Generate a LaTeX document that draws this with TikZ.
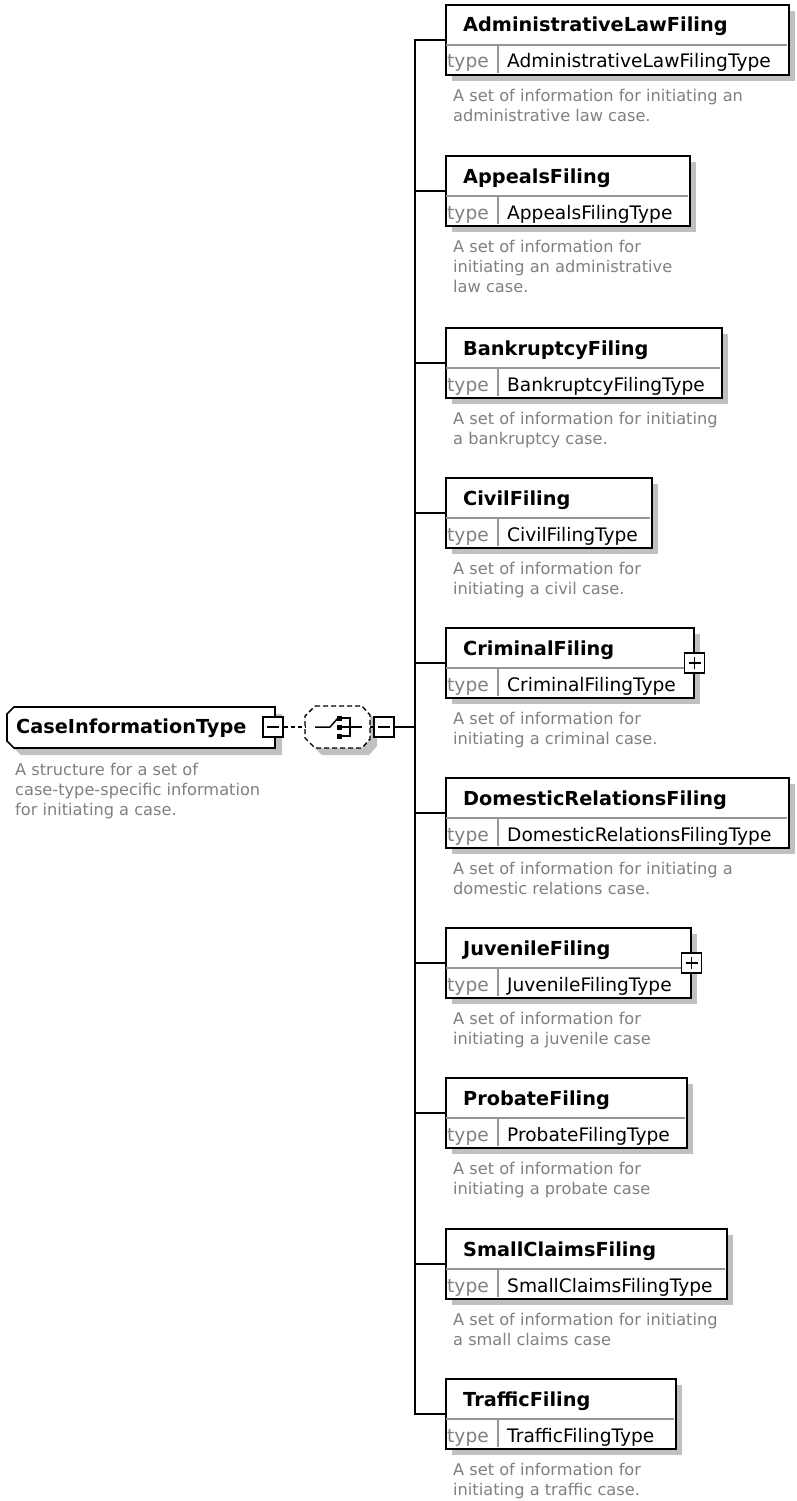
\documentclass[tikz,border=0pt]{standalone}
\usepackage{fontspec}
\setmainfont{DejaVu Sans}
\definecolor{shadowc}{RGB}{192,192,192}
\definecolor{descgray}{RGB}{128,128,128}
\definecolor{divgray}{RGB}{150,150,150}
\tikzset{
  boxline/.style={line width=1.6pt, draw=black},
  elbox/.style={draw=black, line width=1.6pt, fill=white, inner sep=0, minimum height=70pt},
  divider/.style={draw=divgray, line width=1.2pt},
  conn/.style={draw=black, line width=1.6pt},
  dashconn/.style={draw=black, line width=1.4pt, dash pattern=on 4pt off 3pt},
  namestyle/.style={font=\fontsize{19.3}{20}\selectfont\bfseries, anchor=base west, inner sep=0},
  typestyle/.style={font=\fontsize{18.6}{20}\selectfont, anchor=base west, inner sep=0},
  typelab/.style={font=\fontsize{18.6}{20}\selectfont, text=descgray, anchor=base west, inner sep=0},
  descstyle/.style={font=\fontsize{16.2}{20}\selectfont, text=descgray, align=left, anchor=north west, inner sep=0},
  iconbox/.style={draw=black, fill=white, line width=1.5pt, minimum size=20pt, inner sep=0},
  iconline/.style={draw=black, line width=1.5pt},
}
\newcommand\elembox[6]{%
  \fill[shadowc] (452,#2+7) rectangle (#3+7,#2+77);
  \node[elbox, minimum width={#3-445}, anchor=north west] (#1) at (445,#2) {};
  \draw[divider] (446,#2+41) -- (#3-1,#2+41);
  \draw[divider] (498,#2+41) -- (498,#2+69);
  \node[namestyle] (#1-n) at (463,#2+28) {#4};
  \node[typelab] (#1-tl) at (447,#2+64) {type};
  \node[typestyle] (#1-t) at (507,#2+64) {#5};
  \node[descstyle] (#1-d) at (453,#2+84) {\rule{0pt}{13pt}#6};
}
\newcommand\minusicon[2]{%
  \node[iconbox] (#1) at #2 {};
  \draw[iconline] ([xshift=-6pt]#1.center) -- ([xshift=6pt]#1.center);
}
\newcommand\plusicon[2]{%
  \node[iconbox] (#1) at #2 {};
  \draw[iconline] ([xshift=-6pt]#1.center) -- ([xshift=6pt]#1.center);
  \draw[iconline] ([yshift=-6pt]#1.center) -- ([yshift=6pt]#1.center);
}
\begin{document}
\begin{tikzpicture}[x=1pt,y=-1pt]
\useasboundingbox (0,0) rectangle (796,1501);
\fill[white] (0,0) rectangle (796,1501);

% ---- root complex type ----
\fill[shadowc] (21,714) -- (282,714) -- (282,755) -- (21,755) -- (14,748) -- (14,721) -- cycle;
\draw[boxline, fill=white] (14,707) -- (275,707) -- (275,748) -- (14,748) -- (7,741) -- (7,714) -- cycle;
\node[inner sep=0, minimum width=268pt, minimum height=41pt, anchor=north west] (citbox) at (7,707) {};
\node[namestyle] (cit) at (16,733) {CaseInformationType};
\node[descstyle] (citd) at (15,762) {\rule{0pt}{13pt}A structure for a set of\\case-type-specific information\\for initiating a case.};
\minusicon{m1}{(273,727)}

% ---- choice compositor ----
\fill[shadowc] (322,713) -- (369,713) -- (377,722) -- (377,746) -- (369,755) -- (322,755) -- (312,745) -- (312,723) -- cycle;
\draw[fill=white, line width=1.4pt, dash pattern=on 5pt off 3pt] (315,706) -- (362,706) -- (370,715) -- (370,739) -- (362,748) -- (315,748) -- (305,738) -- (305,716) -- cycle;
\node[inner sep=0, minimum width=65pt, minimum height=42pt] (comp) at (337.5,727) {};
\draw[line width=1.5pt] (315,727) -- (330,727) -- (338,718);
\fill[black] (337,715.5) rectangle (342,720.5);
\fill[black] (337,724.5) rectangle (342,729.5);
\fill[black] (337,733.5) rectangle (342,738.5);
\draw[line width=1.5pt] (342,718) -- (350,718) -- (350,736) -- (342,736);
\draw[line width=1.5pt] (342,727) -- (362,727);
\draw[dashconn] (m1.east) -- (comp.west);
\minusicon{m2}{(384,727)}
\draw[conn] (comp.east) -- (m2.west);
\coordinate (sp) at (415,727);
\draw[conn] (m2.east) -- (sp);

% ---- child elements ----
\elembox{adm}{4}{788}{AdministrativeLawFiling}{AdministrativeLawFilingType}{A set of information for initiating an\\administrative law case.}
\elembox{app}{155}{689}{AppealsFiling}{AppealsFilingType}{A set of information for\\initiating an administrative\\law case.}
\elembox{bnk}{327}{721}{BankruptcyFiling}{BankruptcyFilingType}{A set of information for initiating\\a bankruptcy case.}
\elembox{civ}{477}{651}{CivilFiling}{CivilFilingType}{A set of information for\\initiating a civil case.}
\elembox{crm}{627}{693}{CriminalFiling}{CriminalFilingType}{A set of information for\\initiating a criminal case.}
\elembox{dom}{777}{788}{DomesticRelationsFiling}{DomesticRelationsFilingType}{A set of information for initiating a\\domestic relations case.}
\elembox{juv}{927}{690}{JuvenileFiling}{JuvenileFilingType}{A set of information for\\initiating a juvenile case}
\elembox{prb}{1077}{686}{ProbateFiling}{ProbateFilingType}{A set of information for\\initiating a probate case}
\elembox{smc}{1228}{726}{SmallClaimsFiling}{SmallClaimsFilingType}{A set of information for initiating\\a small claims case}
\elembox{trf}{1378}{675}{TrafficFiling}{TrafficFilingType}{A set of information for\\initiating a traffic case.}

\plusicon{pcrm}{(crm.east)}
\plusicon{pjuv}{(juv.east)}

\foreach \e in {adm,app,bnk,civ,crm,dom,juv,prb,smc,trf}{
  \draw[conn] (sp) |- (\e.west);
}
\end{tikzpicture}
\end{document}
